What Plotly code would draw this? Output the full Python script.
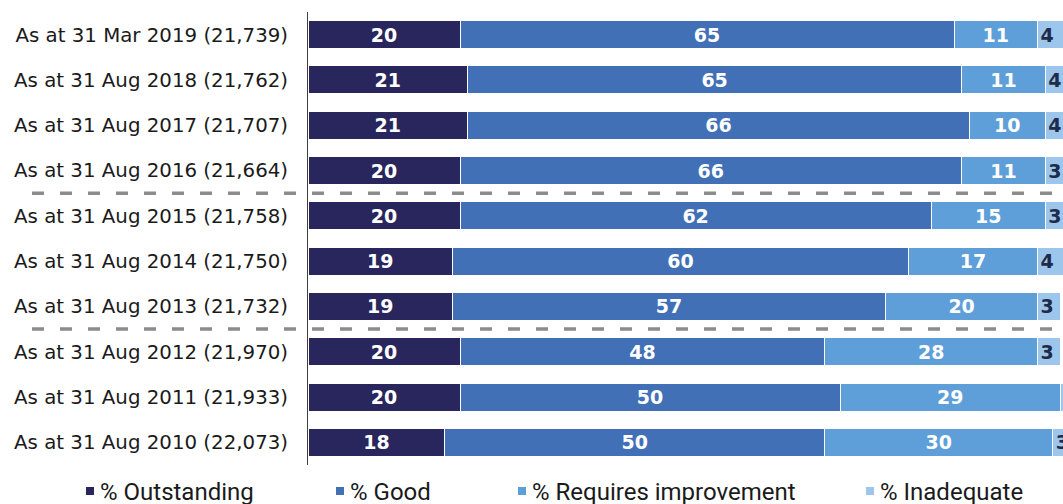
import plotly.graph_objects as go

categories = [
    "As at 31 Mar 2019 (21,739)",
    "As at 31 Aug 2018 (21,762)",
    "As at 31 Aug 2017 (21,707)",
    "As at 31 Aug 2016 (21,664)",
    "As at 31 Aug 2015 (21,758)",
    "As at 31 Aug 2014 (21,750)",
    "As at 31 Aug 2013 (21,732)",
    "As at 31 Aug 2012 (21,970)",
    "As at 31 Aug 2011 (21,933)",
    "As at 31 Aug 2010 (22,073)",
]
outstanding = [20, 21, 21, 20, 20, 19, 19, 20, 20, 18]
good = [65, 65, 66, 66, 62, 60, 57, 48, 50, 50]
requires_improvement = [11, 11, 10, 11, 15, 17, 20, 28, 29, 30]
inadequate = [4, 4, 4, 3, 3, 4, 3, 3, 2, 3]

series_names = ["% Outstanding", "% Good", "% Requires improvement", "% Inadequate"]
series_values = [outstanding, good, requires_improvement, inadequate]
colors = ["#29265E", "#4170B6", "#5E9ED9", "#9CC6EB"]
text_colors = ["white", "white", "white", "#1E2B4A"]
text_anchor = ["middle", "middle", "middle", "start"]
separator_after = [3, 6]  # dashed line after these category indexes

W, H = 1063, 504
ML, MR, MT, MB = 308, 0, 12, 39
plot_w = W - ML - MR
plot_h = H - MT - MB


def px_x(x):
    return (x - ML) / plot_w


def px_y(y):
    return (H - MB - y) / plot_h


fig = go.Figure()
for name, vals, col, tcol, anc in zip(series_names, series_values, colors, text_colors, text_anchor):
    fig.add_trace(go.Bar(
        y=categories, x=vals, name=name, orientation="h",
        marker=dict(color=col, line=dict(color="white", width=1)),
        text=[str(v) for v in vals], textposition="inside",
        insidetextanchor=anc,
        textfont=dict(family="DejaVu Sans", size=19, color=tcol, weight="bold"),
        showlegend=False,
    ))

shapes = []
for idx in separator_after:
    shapes.append(dict(
        type="line", xref="paper", yref="y",
        x0=px_x(32), x1=1.02, y0=idx + 0.5, y1=idx + 0.5,
        line=dict(color="#8C8C8C", width=3.5, dash="12px,16px"),
    ))

annotations = []
legend_marker_x = [86, 336, 518, 866]
for name, col, mx in zip(series_names, colors, legend_marker_x):
    shapes.append(dict(
        type="rect", xref="paper", yref="paper",
        x0=px_x(mx), x1=px_x(mx + 8), y0=px_y(495), y1=px_y(487),
        fillcolor=col, line=dict(width=0),
    ))
    annotations.append(dict(
        xref="paper", yref="paper", x=px_x(mx + 12), y=px_y(492),
        xanchor="left", yanchor="middle", showarrow=False, text=name,
        font=dict(family="Roboto, sans-serif", size=24, color="#1a1a1a"),
    ))

fig.update_layout(
    width=W, height=H,
    margin=dict(l=ML, r=MR, t=MT, b=MB),
    barmode="stack", bargap=0.38,
    plot_bgcolor="white", paper_bgcolor="white",
    uniformtext=dict(minsize=19, mode="show"),
    xaxis=dict(range=[0, plot_w / 7.6], visible=False, showgrid=False, zeroline=False),
    yaxis=dict(
        autorange="reversed", showline=True, linecolor="#404040", linewidth=1,
        ticks="", showgrid=False, ticklabelstandoff=15,
        tickfont=dict(family="DejaVu Sans", size=19.8, color="#1a1a1a"),
    ),
    shapes=shapes, annotations=annotations,
)

fig.write_html(
    "out.html",
    config={"displayModeBar": False},
    post_script="document.body.style.margin='0';document.body.style.overflow='hidden';",
)
